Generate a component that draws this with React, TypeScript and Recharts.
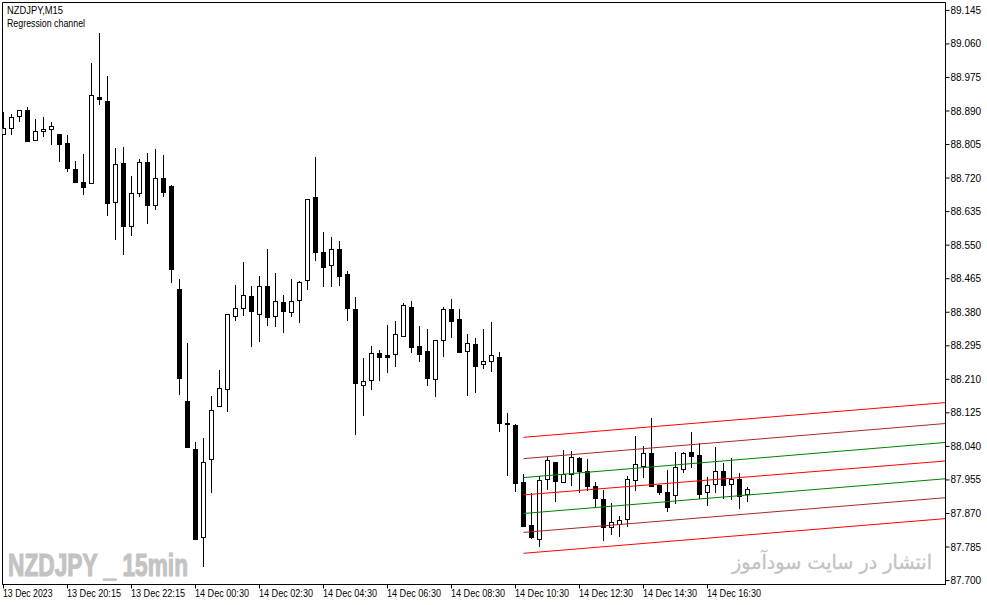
import React from "react";
import { ComposedChart, Bar, Line, XAxis, YAxis, ReferenceArea } from "recharts";

// ---- data (NZDJPY M15) ----
const openPrices = [
  88.831, 88.846, 88.876, 88.892, 88.816, 88.838, 88.844, 88.831, 88.808, 88.742,
  88.709, 88.707, 88.925, 88.914, 88.659, 88.757, 88.598, 88.681, 88.760, 88.651,
  88.719, 88.699, 88.438, 88.155, 88.033, 87.810, 88.008, 88.142, 88.185, 88.370,
  88.390, 88.421, 88.375, 88.446, 88.370, 88.405, 88.380, 88.410, 88.461, 88.671,
  88.532, 88.499, 88.540, 88.476, 88.388, 88.195, 88.208, 88.276, 88.271, 88.274,
  88.319, 88.393, 88.294, 88.281, 88.210, 88.309, 88.388, 88.362, 88.281, 88.299,
  88.248, 88.256, 88.266, 88.099, 88.094, 87.949, 87.840, 87.805, 87.957, 87.998,
  87.949, 87.970, 88.010, 87.977, 87.939, 87.906, 87.835, 87.843, 87.856, 87.954,
  87.990, 88.023, 87.942, 87.922, 87.916, 87.982, 88.025, 88.018, 87.922, 87.944,
  87.977, 87.944, 87.957, 87.919,
];
const highPrices = [
  88.887, 88.882, 88.892, 88.899, 88.871, 88.874, 88.861, 88.831, 88.828, 88.763,
  88.780, 89.011, 89.087, 88.978, 88.795, 88.800, 88.725, 88.768, 88.783, 88.793,
  88.778, 88.702, 88.464, 88.301, 88.051, 88.061, 88.167, 88.233, 88.375, 88.448,
  88.507, 88.446, 88.471, 88.540, 88.479, 88.423, 88.464, 88.459, 88.666, 88.773,
  88.583, 88.570, 88.560, 88.484, 88.418, 88.263, 88.294, 88.284, 88.347, 88.357,
  88.403, 88.408, 88.345, 88.337, 88.309, 88.393, 88.413, 88.388, 88.324, 88.314,
  88.337, 88.355, 88.279, 88.124, 88.096, 87.970, 87.922, 87.965, 88.013, 87.998,
  88.030, 88.028, 88.013, 88.008, 87.949, 87.929, 87.896, 87.863, 87.965, 88.066,
  88.041, 88.112, 87.942, 87.980, 88.025, 88.025, 88.076, 88.048, 87.962, 88.038,
  87.998, 88.010, 87.972, 87.937,
];
const lowPrices = [
  88.828, 88.828, 88.861, 88.811, 88.816, 88.823, 88.803, 88.760, 88.735, 88.709,
  88.676, 88.707, 88.904, 88.623, 88.562, 88.524, 88.573, 88.671, 88.603, 88.638,
  88.671, 88.454, 88.170, 88.038, 87.805, 87.734, 87.922, 88.142, 88.127, 88.357,
  88.370, 88.291, 88.304, 88.345, 88.342, 88.327, 88.367, 88.352, 88.436, 88.509,
  88.443, 88.443, 88.446, 88.357, 88.068, 88.117, 88.182, 88.205, 88.226, 88.241,
  88.319, 88.276, 88.253, 88.193, 88.165, 88.266, 88.314, 88.276, 88.167, 88.175,
  88.236, 88.228, 88.076, 87.965, 87.924, 87.838, 87.805, 87.785, 87.929, 87.899,
  87.949, 87.939, 87.922, 87.927, 87.886, 87.800, 87.815, 87.810, 87.835, 87.927,
  87.960, 87.937, 87.916, 87.873, 87.894, 87.972, 87.985, 87.906, 87.889, 87.922,
  87.906, 87.904, 87.881, 87.899,
];
const closePrices = [
  88.846, 88.874, 88.892, 88.813, 88.838, 88.844, 88.851, 88.806, 88.745, 88.709,
  88.697, 88.930, 88.920, 88.656, 88.755, 88.598, 88.681, 88.760, 88.651, 88.719,
  88.684, 88.489, 88.213, 88.038, 87.805, 87.998, 88.132, 88.188, 88.375, 88.390,
  88.423, 88.383, 88.446, 88.367, 88.408, 88.383, 88.408, 88.456, 88.666, 88.532,
  88.494, 88.540, 88.471, 88.390, 88.200, 88.205, 88.276, 88.266, 88.266, 88.324,
  88.398, 88.291, 88.274, 88.213, 88.309, 88.388, 88.357, 88.279, 88.301, 88.243,
  88.256, 88.271, 88.099, 88.096, 87.947, 87.838, 87.808, 87.954, 88.003, 87.952,
  87.970, 88.013, 87.977, 87.939, 87.909, 87.835, 87.848, 87.851, 87.957, 87.993,
  88.023, 87.939, 87.922, 87.884, 87.987, 88.023, 88.015, 87.919, 87.942, 87.977,
  87.942, 87.957, 87.914, 87.932,
];

// regression channel (start at bar 65, extends to right edge)
const channelStartBar = 65;
const channelEndBar = 117.75;
const channelStart = [88.063, 88.009, 87.961, 87.917, 87.870, 87.822, 87.769];
const channelEnd = [88.151, 88.098, 88.050, 88.003, 87.958, 87.910, 87.857];
const channelColors = ["#ff0000", "#a52a2a", "#008000", "#ff0000", "#008000", "#a52a2a", "#ff0000"];

const xTickBars = [0, 8, 16, 24, 32, 40, 48, 56, 64, 72, 80, 88];
const xTickLabels = [
  "13 Dec 2023", "13 Dec 20:15", "13 Dec 22:15", "14 Dec 00:30", "14 Dec 02:30", "14 Dec 04:30",
  "14 Dec 06:30", "14 Dec 08:30", "14 Dec 10:30", "14 Dec 12:30", "14 Dec 14:30", "14 Dec 16:30",
];
const yTicks = [
  87.7, 87.785, 87.87, 87.955, 88.04, 88.125, 88.21, 88.295, 88.38, 88.465,
  88.55, 88.635, 88.72, 88.805, 88.89, 88.975, 89.06, 89.145,
];

const X_MIN = -0.125;
const Y_MIN = 87.69;
const Y_MAX = 89.165;

const candles = openPrices.map((o, i) => ({
  i,
  o,
  h: highPrices[i],
  l: lowPrices[i],
  c: closePrices[i],
}));

const channelLines = channelStart.map((s, k) => [
  { i: channelStartBar, v: s },
  { i: channelEndBar, v: channelEnd[k] },
]);

const FONT = "'Liberation Sans', Arial, sans-serif";

const Candle = (props: any) => {
  const { x, y, width, height, payload } = props;
  if (payload == null || x == null) return null;
  const { o, h, l, c } = payload;
  const cx = x + width / 2;
  const yTop = Math.min(y, y + height);
  const span = Math.abs(height);
  const toY = (v: number) => yTop + ((h - v) / (h - l || 1)) * span;
  const bTop = toY(Math.max(o, c));
  const bBot = toY(Math.min(o, c));
  const up = c >= o;
  return (
    <g shapeRendering="crispEdges">
      <line x1={cx} x2={cx} y1={yTop} y2={yTop + span} stroke="#000" strokeWidth={1} />
      <rect
        x={cx - 2}
        y={bTop}
        width={4}
        height={Math.max(bBot - bTop, 0)}
        fill={up ? "#fff" : "#000"}
        stroke="#000"
        strokeWidth={1}
      />
    </g>
  );
};

const XTick = (props: any) => {
  const { x, y, payload } = props;
  const idx = xTickBars.indexOf(payload.value);
  const label = idx >= 0 ? xTickLabels[idx] : "";
  return (
    <text
      x={x - 0.5}
      y={y + 6.5}
      fontFamily={FONT}
      fontSize={10}
      fill="#000"
      textAnchor="start"
      textLength={label.length * 4.5}
      lengthAdjust="spacingAndGlyphs"
    >
      {label}
    </text>
  );
};

const YTick = (props: any) => {
  const { x, y, payload } = props;
  return (
    <text x={x - 1} y={y + 3.5} fontFamily={FONT} fontSize={10} fill="#000" textAnchor="start">
      {Number(payload.value).toFixed(3)}
    </text>
  );
};

export default function App() {
  return (
    <div style={{ position: "absolute", left: 0, top: 0, width: 987, height: 605, background: "#fff" }}>
      <ComposedChart
        width={987}
        height={605}
        data={candles}
        margin={{ top: 2.5, left: 2.5, right: 0, bottom: 0 }}
      >
        <XAxis
          dataKey="i"
          type="number"
          domain={[X_MIN, channelEndBar]}
          allowDataOverflow
          ticks={xTickBars}
          tick={<XTick />}
          tickSize={4}
          tickMargin={2}
          height={20.5}
          axisLine={{ stroke: "#000" }}
          tickLine={{ stroke: "#000" }}
          interval={0}
        />
        <YAxis
          orientation="right"
          type="number"
          domain={[Y_MIN, Y_MAX]}
          allowDataOverflow
          ticks={yTicks}
          tick={<YTick />}
          tickSize={4}
          tickMargin={2}
          width={41.5}
          axisLine={{ stroke: "#000" }}
          tickLine={{ stroke: "#000" }}
          interval={0}
        />
        <ReferenceArea
          x1={X_MIN}
          x2={channelEndBar}
          y1={Y_MIN}
          y2={Y_MAX}
          fill="none"
          stroke="#000"
          strokeWidth={1}
          fillOpacity={0}
        />
        <Bar
          dataKey={(d: any) => [d.l, d.h]}
          barSize={5}
          shape={<Candle />}
          isAnimationActive={false}
        />
        {channelLines.map((pts, k) => (
          <Line
            key={k}
            data={pts}
            dataKey="v"
            type="linear"
            stroke={channelColors[k]}
            strokeWidth={1}
            dot={false}
            activeDot={false}
            isAnimationActive={false}
          />
        ))}
      </ComposedChart>
      <svg
        width={987}
        height={605}
        style={{ position: "absolute", left: 0, top: 0, pointerEvents: "none" }}
      >
        <text x={7} y={14} fontFamily={FONT} fontSize={10} fill="#000" textLength={56} lengthAdjust="spacingAndGlyphs">
          NZDJPY,M15
        </text>
        <text x={7} y={27} fontFamily={FONT} fontSize={10} fill="#000" textLength={78} lengthAdjust="spacingAndGlyphs">
          Regression channel
        </text>
        <text
          x={8}
          y={576}
          fontFamily={FONT}
          fontWeight="bold"
          fontSize={32}
          fill="#c3c3c3"
          stroke="#c3c3c3"
          strokeWidth={1.2}
          textLength={180}
          lengthAdjust="spacingAndGlyphs"
        >
          NZDJPY _ 15min
        </text>
        <text
          x={732}
          y={569}
          fontFamily="'DejaVu Sans', sans-serif"
          fontSize={20}
          fill="#c3c3c3"
          stroke="#c3c3c3"
          strokeWidth={0.3}
          textLength={200}
          lengthAdjust="spacingAndGlyphs"
        >
          انتشار در سایت سودآموز
        </text>
      </svg>
    </div>
  );
}
